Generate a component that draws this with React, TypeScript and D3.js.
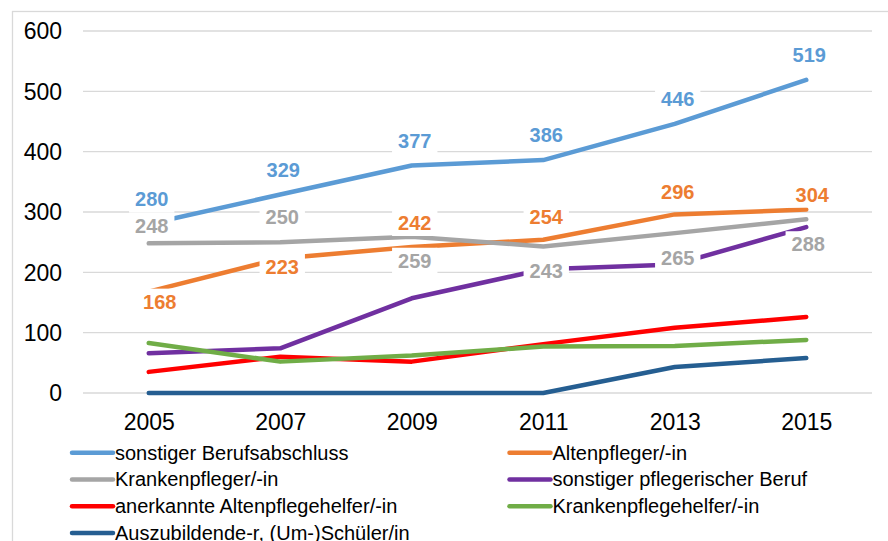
import * as d3 from 'd3';

// years on the category axis
const years = ['2005', '2007', '2009', '2011', '2013', '2015'];
const yTicks = [0, 100, 200, 300, 400, 500, 600];

// series values
const sonstigerBerufsabschluss = [280, 329, 377, 386, 446, 519];
const altenpfleger = [168, 223, 242, 254, 296, 304];
const krankenpfleger = [248, 250, 259, 243, 265, 288];
const sonstigerPflegerisch = [66, 74, 157, 205, 213, 275];
const anerkannteAltenpflegehelfer = [35, 60, 52, 81, 108, 126];
const krankenpflegehelfer = [83, 52, 62, 77, 78, 88];
const auszubildende = [0, 0, 0, 0, 43, 58];

interface Series {
    name: string;
    values: number[];
    color: string;
    labels: boolean;
}

const series: Series[] = [
    { name: 'sonstiger Berufsabschluss', values: sonstigerBerufsabschluss, color: '#5B9BD5', labels: true },
    { name: 'Altenpfleger/-in', values: altenpfleger, color: '#ED7D31', labels: true },
    { name: 'Krankenpfleger/-in', values: krankenpfleger, color: '#A5A5A5', labels: true },
    { name: 'sonstiger pflegerischer Beruf', values: sonstigerPflegerisch, color: '#7030A0', labels: false },
    { name: 'anerkannte Altenpflegehelfer/-in', values: anerkannteAltenpflegehelfer, color: '#FF0000', labels: false },
    { name: 'Krankenpflegehelfer/-in', values: krankenpflegehelfer, color: '#70AD47', labels: false },
    { name: 'Auszubildende-r, (Um-)Schüler/in', values: auszubildende, color: '#255E91', labels: false },
];

// where each data label sits relative to its point [dx, dy]
const labelOffsets: Record<string, [number, number][]> = {
    'sonstiger Berufsabschluss': [[3, -25], [3, -25], [3, -25], [3, -25], [3, -25], [3, -25]],
    'Altenpfleger/-in': [[11, 10], [2, 8], [3, -24], [3, -23], [3, -23], [6, -15]],
    'Krankenpfleger/-in': [[3, -18], [2, -25], [3, 24], [3, 24], [3, 25], [2, 25]],
};

const W = 888;
const H = 541;
const FONT = '"Liberation Sans", Arial, sans-serif';

export default function App() {
    const x = d3.scalePoint<string>().domain(years).range([83, 872]).padding(0.5);
    const y = d3.scaleLinear().domain([0, 600]).range([393, 31]);

    const line = d3.line<number>()
        .x((_d, i) => x(years[i]) as number)
        .y(d => y(d));

    const labelSize = 20;

    return (
        <div style={{ position: 'absolute', left: 0, top: 0 }}>
            <svg width={W} height={H} style={{ display: 'block', fontFamily: FONT }}>
                <rect x={0} y={0} width={W} height={H} fill="#fff" />
                {/* chart area frame */}
                <rect x={12.5} y={11.5} width={W + 20} height={H + 20} fill="none" stroke="#D9D9D9" strokeWidth={1.3} />

                {/* gridlines + y labels */}
                {yTicks.map(t => (
                    <g key={t}>
                        <line x1={83} x2={872} y1={y(t)} y2={y(t)} stroke="#D9D9D9" strokeWidth={1.3} />
                        <text x={62} y={y(t) + 8.2} textAnchor="end" fontSize={23} fill="#000">{t}</text>
                    </g>
                ))}

                {/* x labels */}
                {years.map(yr => (
                    <text key={yr} x={(x(yr) as number) + 0.5} y={429.5} textAnchor="middle" fontSize={23} fill="#000">{yr}</text>
                ))}

                {/* lines */}
                {series.map(s => (
                    <path key={s.name} d={line(s.values) ?? ''} fill="none" stroke={s.color}
                        strokeWidth={4.5} strokeLinejoin="round" strokeLinecap="round" />
                ))}

                {/* data labels with white boxes */}
                {series.filter(s => s.labels).map(s => (
                    <g key={s.name}>
                        {s.values.map((v, i) => {
                            const [dx, dy] = labelOffsets[s.name][i];
                            const cx = (x(years[i]) as number) + dx;
                            const cy = y(v) + dy;
                            const bw = String(v).length * 0.556 * labelSize + 12;
                            return (
                                <g key={i}>
                                    <rect x={cx - bw / 2} y={cy - 13} width={bw} height={26} fill="#fff" />
                                    <text x={cx} y={cy + 7.2} textAnchor="middle" fontSize={labelSize}
                                        fontWeight="bold" fill={s.color}>{v}</text>
                                </g>
                            );
                        })}
                    </g>
                ))}

                {/* legend, two columns */}
                {series.map((s, i) => {
                    const col = i % 2;
                    const row = Math.floor(i / 2);
                    const lx = col === 0 ? 72 : 509.5;
                    const by = 459.5 + row * 26.7;
                    return (
                        <g key={s.name}>
                            <line x1={lx} x2={lx + 41} y1={by - 6.7} y2={by - 6.7} stroke={s.color}
                                strokeWidth={4.5} strokeLinecap="round" />
                            <text x={lx + 43} y={by} fontSize={20} fill="#000">{s.name}</text>
                        </g>
                    );
                })}
            </svg>
        </div>
    );
}
